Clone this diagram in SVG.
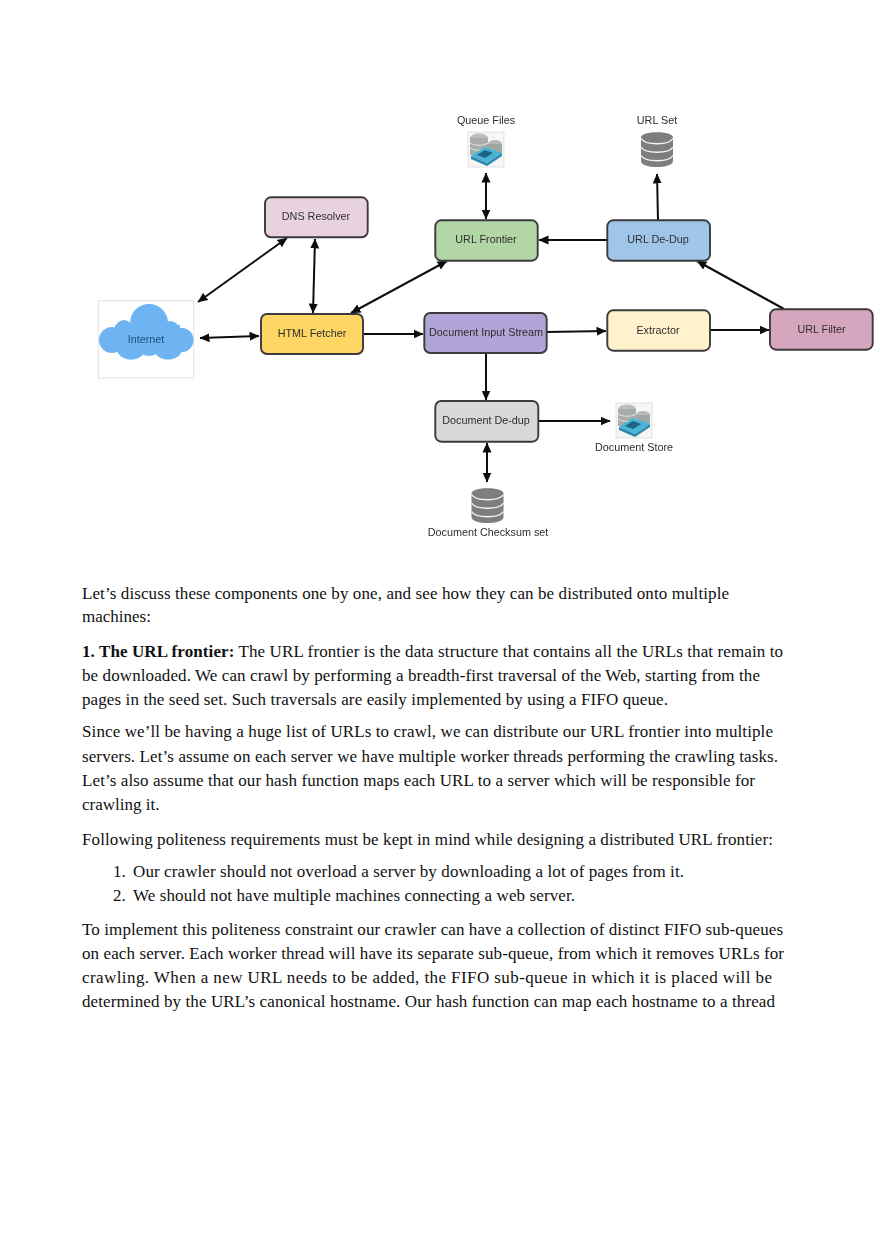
<svg xmlns="http://www.w3.org/2000/svg" width="880" height="1247" viewBox="0 0 880 1247">
<style>
.n{stroke:#3a3a3a;stroke-width:1.9}
.l{font-family:"Liberation Sans",Arial,sans-serif;font-size:10.8px;fill:#2e2e2e;text-anchor:middle}
.c{fill:none;stroke:#111;stroke-width:2}
.b{font-family:"Liberation Serif","Times New Roman",serif;font-size:17px;fill:#111}
.bb{font-weight:bold}
.cl{fill:#6eb3f2}
</style>
<defs>
<marker id="a" viewBox="0 0 10 10" refX="9.500" refY="5" markerWidth="10" markerHeight="10" orient="auto-start-reverse" markerUnits="userSpaceOnUse"><path d="M0 0.500L10 5L0 9.500z" fill="#111"/></marker>
<filter id="s" x="-5%" y="-5%" width="110%" height="110%"><feGaussianBlur stdDeviation="0.4"/></filter>
<g id="db"><path d="M0 5.500C0 -1.500 32 -1.500 32 5.500V29C32 37 0 37 0 29z" fill="#7e7e7e"/><path d="M0 6.500C4 13.500 28 13.500 32 6.500M0 15C4 22 28 22 32 15M0 23.500C4 30.500 28 30.500 32 23.500" fill="none" stroke="#f4f4f4" stroke-width="1.400"/></g>
<g id="drive"><rect x="0" y="0" width="36" height="35" fill="#f6f6f6" stroke="#d8d8d8" stroke-width=".7"/><ellipse cx="11" cy="6" rx="9" ry="4.500" fill="#bcbebe"/><rect x="2" y="6" width="18" height="17" fill="#a8abab"/><path d="M2 11C7 14 15 14 20 11M2 16C7 19 15 19 20 16" stroke="#e4e4e4" fill="none"/><ellipse cx="27" cy="12" rx="7" ry="4" fill="#b4b8b8"/><rect x="20" y="12" width="14" height="9" fill="#a0a5a5"/><path d="M3 24L17 15L34 21L19 31z" fill="#48b4d8"/><path d="M9 23L17 18L25 21L17 26z" fill="#1c6484"/><path d="M3 24L19 31L34 21V24L19 34L3 27z" fill="#2b88ab"/></g>
</defs>
<rect width="880" height="1247" fill="#fff"/>
<g filter="url(#s)">
<g id="connectors">
<path class="c" d="M198 302L287 238" marker-start="url(#a)" marker-end="url(#a)"/>
<path class="c" d="M313 313L315 239" marker-start="url(#a)" marker-end="url(#a)"/>
<path class="c" d="M351 313L447 261" marker-start="url(#a)" marker-end="url(#a)"/>
<path class="c" d="M200 338L259 336" marker-start="url(#a)" marker-end="url(#a)"/>
<path class="c" d="M364 334L423 334" marker-end="url(#a)"/>
<path class="c" d="M486 173L486 219" marker-start="url(#a)" marker-end="url(#a)"/>
<path class="c" d="M607 240L539 240" marker-end="url(#a)"/>
<path class="c" d="M658 220L657 174" marker-end="url(#a)"/>
<path class="c" d="M784 309L697 261" marker-end="url(#a)"/>
<path class="c" d="M547 332L606 331" marker-end="url(#a)"/>
<path class="c" d="M710 330L769 330" marker-end="url(#a)"/>
<path class="c" d="M486 354L486 400" marker-end="url(#a)"/>
<path class="c" d="M539 421L610 421" marker-end="url(#a)"/>
<path class="c" d="M487 443L487 482" marker-start="url(#a)" marker-end="url(#a)"/>
</g>
<g id="internet"><rect x="98.300" y="300.700" width="95.400" height="77.300" fill="#fff" stroke="#e2e2e2"/>
<ellipse class="cl" cx="112" cy="340" rx="13" ry="13"/><circle class="cl" cx="124" cy="329" r="9"/><circle class="cl" cx="149" cy="323" r="19"/><circle class="cl" cx="170" cy="331" r="10"/><ellipse class="cl" cx="182" cy="340" rx="11.500" ry="12"/><ellipse class="cl" cx="131" cy="349" rx="14" ry="10.500"/><ellipse class="cl" cx="168" cy="349" rx="14" ry="10.500"/><ellipse class="cl" cx="149" cy="347" rx="12" ry="9"/><rect class="cl" x="115" y="325" width="65" height="24"/>
<text class="l" x="146" y="342.500" style="fill:#1d4f7a">Internet</text></g>
<g id="dns-resolver"><rect class="n" x="265" y="197.300" width="102.700" height="40" rx="6" fill="#e9d2e0"/><text class="l" x="316" y="220">DNS Resolver</text></g>
<g id="html-fetcher"><rect class="n" x="261" y="314" width="102" height="40" rx="6" fill="#fdd663"/><text class="l" x="312" y="337">HTML Fetcher</text></g>
<g id="url-frontier"><rect class="n" x="435.300" y="220.300" width="102.400" height="40.400" rx="6" fill="#b3d6a6"/><text class="l" x="486" y="243">URL Frontier</text></g>
<g id="url-dedup"><rect class="n" x="607.300" y="220.300" width="102.700" height="40.400" rx="6" fill="#9fc5e8"/><text class="l" x="658" y="243">URL De-Dup</text></g>
<g id="doc-input"><rect class="n" x="424.300" y="313" width="122.400" height="40" rx="6" fill="#b1a4d6"/><text class="l" x="486" y="336">Document Input Stream</text></g>
<g id="extractor"><rect class="n" x="607.300" y="310.300" width="102.700" height="40.400" rx="6" fill="#fff2cc"/><text class="l" x="658" y="334">Extractor</text></g>
<g id="url-filter"><rect class="n" x="770" y="309.300" width="102.700" height="40.400" rx="6" fill="#d5a6bd"/><text class="l" x="821.500" y="332.500">URL Filter</text></g>
<g id="doc-dedup"><rect class="n" x="435.300" y="401" width="103" height="40.700" rx="6" fill="#d9d7d9"/><text class="l" x="486" y="424">Document De-dup</text></g>
<g id="queue-files"><text class="l" x="486" y="124">Queue Files</text><use href="#drive" x="468" y="132"/></g>
<g id="url-set"><text class="l" x="657" y="124">URL Set</text><use href="#db" x="641" y="132"/></g>
<g id="doc-store"><use href="#drive" x="616" y="403"/><text class="l" x="634" y="451">Document Store</text></g>
<g id="checksum-set"><use href="#db" x="471.500" y="488"/><text class="l" x="488" y="536">Document Checksum set</text></g>
</g>
<g id="body">
<text class="b" x="82" y="599" textLength="647" lengthAdjust="spacing">Let’s discuss these components one by one, and see how they can be distributed onto multiple</text>
<text class="b" x="82" y="622">machines:</text>
<text class="b" x="82" y="657" textLength="701" lengthAdjust="spacing"><tspan class="bb">1. The URL frontier:</tspan> The URL frontier is the data structure that contains all the URLs that remain to</text>
<text class="b" x="82" y="681" textLength="678" lengthAdjust="spacing">be downloaded. We can crawl by performing a breadth-first traversal of the Web, starting from the</text>
<text class="b" x="82" y="705" textLength="586" lengthAdjust="spacing">pages in the seed set. Such traversals are easily implemented by using a FIFO queue.</text>
<text class="b" x="82" y="737" textLength="691" lengthAdjust="spacing">Since we’ll be having a huge list of URLs to crawl, we can distribute our URL frontier into multiple</text>
<text class="b" x="82" y="762" textLength="696" lengthAdjust="spacing">servers. Let’s assume on each server we have multiple worker threads performing the crawling tasks.</text>
<text class="b" x="82" y="786" textLength="673" lengthAdjust="spacing">Let’s also assume that our hash function maps each URL to a server which will be responsible for</text>
<text class="b" x="82" y="810">crawling it.</text>
<text class="b" x="82" y="845" textLength="691" lengthAdjust="spacing">Following politeness requirements must be kept in mind while designing a distributed URL frontier:</text>
<text class="b" x="113" y="877">1.</text><text class="b" x="133" y="877" textLength="551" lengthAdjust="spacing">Our crawler should not overload a server by downloading a lot of pages from it.</text>
<text class="b" x="113" y="901">2.</text><text class="b" x="133" y="901" textLength="442" lengthAdjust="spacing">We should not have multiple machines connecting a web server.</text>
<text class="b" x="82" y="935" textLength="701" lengthAdjust="spacing">To implement this politeness constraint our crawler can have a collection of distinct FIFO sub-queues</text>
<text class="b" x="82" y="959" textLength="702" lengthAdjust="spacing">on each server. Each worker thread will have its separate sub-queue, from which it removes URLs for</text>
<text class="b" x="82" y="983" textLength="690" lengthAdjust="spacing">crawling. When a new URL needs to be added, the FIFO sub-queue in which it is placed will be</text>
<text class="b" x="82" y="1007" textLength="693" lengthAdjust="spacing">determined by the URL’s canonical hostname. Our hash function can map each hostname to a thread</text>
</g>
</svg>
